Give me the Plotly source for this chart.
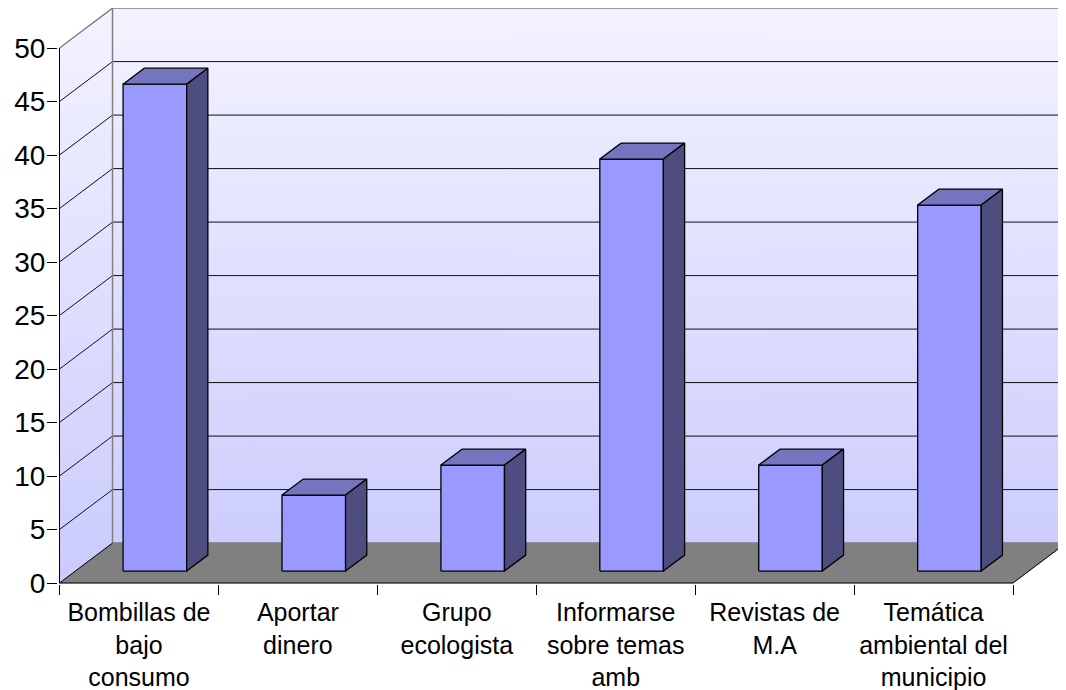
import plotly.graph_objects as go

# ---- data ----
categories = ["Bombillas de<br>bajo<br>consumo", "Aportar<br>dinero", "Grupo<br>ecologista",
              "Informarse<br>sobre temas<br>amb", "Revistas de<br>M.A",
              "Temática<br>ambiental del<br>municipio"]
values = [45.5, 7.1, 9.9, 38.5, 9.9, 34.2]
y_ticks = [0, 5, 10, 15, 20, 25, 30, 35, 40, 45, 50]

# ---- 3D projection parameters (oblique) ----
DX = 0.3337      # depth offset in category units
DY = 3.73        # depth offset in value units
F0, F1 = 0.3, 0.7  # bar depth span (fraction of floor depth)
BW = 0.4         # bar width (category units)
YMAX_AX = 50

n = len(categories)
x_left, x_right = -0.5, n - 0.5
W = 953.5 / 6
xmin = -0.5 - 1.5 / W
xmax = xmin + 1008 / W
ymin = -1 / 10.7
ymax = ymin + 576 / 10.7

FONT = "Liberation Sans, Arial, sans-serif"
fig = go.Figure()

def poly(xs, ys, fill, line_color="black", width=1, **kw):
    fig.add_trace(go.Scatter(x=xs, y=ys, mode="lines", fill="toself", fillcolor=fill,
                             line=dict(color=line_color, width=width),
                             hoverinfo="skip", showlegend=False, **kw))

def lines(xs, ys, color, width=1):
    fig.add_trace(go.Scatter(x=xs, y=ys, mode="lines", line=dict(color=color, width=width),
                             hoverinfo="skip", showlegend=False))

grad = dict(type="vertical", start=0, stop=YMAX_AX + DY,
            colorscale=[[0, "#CACAFD"], [1, "#F3F3FF"]])

# back wall
bx0 = x_left + DX
fig.add_trace(go.Scatter(x=[bx0, xmax + 0.01, xmax + 0.01, bx0, bx0],
                         y=[DY, DY, YMAX_AX + DY, YMAX_AX + DY, DY],
                         mode="lines", fill="toself", fillgradient=grad,
                         line=dict(width=0), hoverinfo="skip", showlegend=False))
# side wall
fig.add_trace(go.Scatter(x=[x_left, bx0, bx0, x_left, x_left],
                         y=[0, DY, YMAX_AX + DY, YMAX_AX, 0],
                         mode="lines", fill="toself", fillgradient=grad,
                         line=dict(width=0), hoverinfo="skip", showlegend=False))
# floor
poly([x_left, x_right, x_right + DX, bx0, x_left], [0, 0, DY, DY, 0], "#808080",
     line_color="#808080", width=0.5)

# gridlines: back wall + side wall
gx, gy = [], []
for k in y_ticks[1:-1]:
    gx += [bx0, xmax + 0.01, None, x_left, bx0, None]
    gy += [k + DY, k + DY, None, k, k + DY, None]
lines(gx, gy, "#111111", 1)
# gray edges of walls
lines([x_left, bx0, xmax + 0.01, None, bx0, bx0, None, bx0, xmax + 0.01],
      [YMAX_AX, YMAX_AX + DY, YMAX_AX + DY, None, DY, YMAX_AX + DY, None, DY, DY],
      "#808080", 1.5)
# floor black edges + front axis line
lines([x_left, x_left, None, bx0, x_left, x_right, x_right + DX],
      [YMAX_AX, 0, None, DY, 0, 0, DY], "black", 1)

# bars
fx, fy, tx, ty, sx, sy = [], [], [], [], [], []
dd = F1 - F0
for i, v in enumerate(values):
    xl = i - BW / 2 + F0 * DX
    xr = i + BW / 2 + F0 * DX
    b = F0 * DY
    t = v + F0 * DY
    fx += [xl, xr, xr, xl, xl, None]
    fy += [b, b, t, t, b, None]
    tx += [xl, xr, xr + dd * DX, xl + dd * DX, xl, None]
    ty += [t, t, t + dd * DY, t + dd * DY, t, None]
    sx += [xr, xr + dd * DX, xr + dd * DX, xr, xr, None]
    sy += [b, b + dd * DY, t + dd * DY, t, b, None]
poly(fx, fy, "#9999FF", width=1.3)
poly(tx, ty, "#7575BF", width=1.3)
poly(sx, sy, "#4D4D80", width=1.3)

# invisible anchor for label axis
fig.add_trace(go.Scatter(x=list(range(n)), y=[0] * n, xaxis="x2", mode="markers",
                         marker=dict(opacity=0), hoverinfo="skip", showlegend=False))

fig.update_layout(
    width=1058, height=682,
    margin=dict(l=50, r=0, t=0, b=106, autoexpand=False),
    paper_bgcolor="white", plot_bgcolor="white",
    font=dict(family=FONT, color="black"),
    xaxis=dict(range=[xmin, xmax], tickmode="array", automargin=False,
               tickvals=[x_left + j for j in range(n + 1)],
               showticklabels=False, ticks="outside", ticklen=10, tickcolor="black",
               tickwidth=1, showgrid=False, zeroline=False, showline=False, fixedrange=True),
    xaxis2=dict(range=[xmin, xmax], overlaying="x", anchor="y", side="bottom",
                automargin=False,
                tickmode="array", tickvals=list(range(n)), ticktext=categories,
                ticks="", tickfont=dict(size=25, family=FONT), ticklabelstandoff=11,
                showgrid=False, zeroline=False, showline=False, fixedrange=True),
    yaxis=dict(range=[ymin, ymax], tickmode="array", tickvals=y_ticks, automargin=False,
               ticktext=[str(v) for v in y_ticks],
               ticks="outside", ticklen=10, tickcolor="black", tickwidth=1,
               tickfont=dict(size=28, family=FONT), ticklabelstandoff=-4,
               showgrid=False, zeroline=False, showline=False, fixedrange=True),
)

fig.write_html("out.html")
